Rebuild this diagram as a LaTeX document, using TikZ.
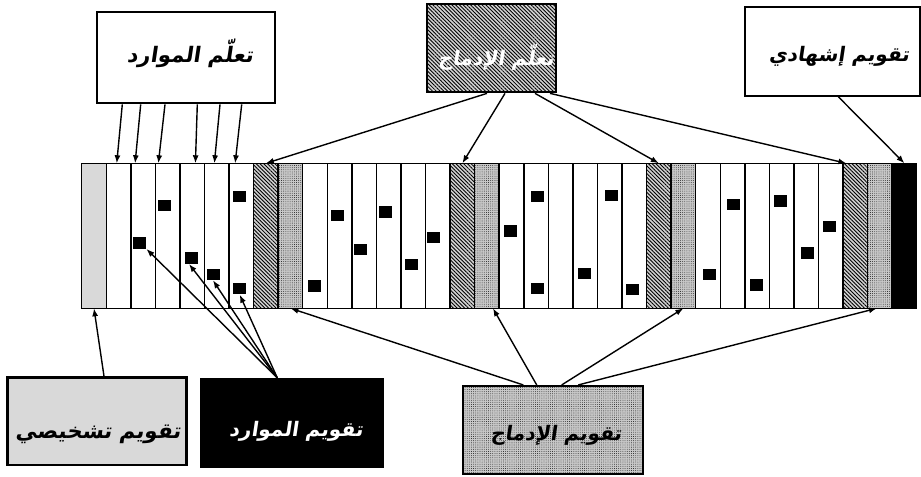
\documentclass[tikz,border=0pt]{standalone}
\usepackage{fontspec}
\usetikzlibrary{calc,arrows.meta,patterns.meta}
\TeXXeTstate=1
\newfontfamily\arabicfont[Script=Arabic,FakeSlant=0.15]{DejaVu Sans Bold}
\newcommand\artext[1]{{\arabicfont\beginR #1\endR}}

\definecolor{lightfill}{HTML}{D9D9D9}
\definecolor{hatchbg}{HTML}{D2D2D2}
\definecolor{dotbg}{HTML}{C8C8C8}

\tikzset{
  colbase/.style={draw=black, line width=1.1pt, inner sep=0pt, outer sep=0pt,
                  minimum width=18.42pt, minimum height=108.75pt},
  plaincol/.style={fill=white},
  diagcol/.style={fill=lightfill},
  hatchfill/.style={preaction={fill=hatchbg},
                    pattern={Lines[angle=-45,distance=2pt,line width=0.65pt]},
                    pattern color=black},
  dotfill/.style={preaction={fill=dotbg},
                  pattern={Dots[distance=1.6pt,radius=0.3pt]},
                  pattern color=black},
  hatchcol/.style={hatchfill},
  dotcol/.style={dotfill},
  finalcol/.style={fill=black},
  resource/.style={fill=black, inner sep=0pt, minimum width=9.75pt, minimum height=8.6pt},
  bigbox/.style={draw=black, line width=1.6pt, inner sep=0pt},
  lbl/.style={inner sep=0pt, font=\fontsize{15}{18}\selectfont},
  biglbl/.style={inner sep=0pt, font=\fontsize{16}{19}\selectfont},
  arr/.style={-{Latex[length=6pt,width=4.5pt]}, line width=1.05pt},
}

\begin{document}
\begin{tikzpicture}[x=0.75pt,y=-0.75pt]
\useasboundingbox (0,0) rectangle (921,477);

% the strip of learning and assessment slots
\foreach \k [count=\i from 0] in {diagcol,plaincol,plaincol,plaincol,plaincol,plaincol,plaincol,hatchcol,dotcol,
  plaincol,plaincol,plaincol,plaincol,plaincol,plaincol,hatchcol,dotcol,
  plaincol,plaincol,plaincol,plaincol,plaincol,plaincol,hatchcol,dotcol,
  plaincol,plaincol,plaincol,plaincol,plaincol,plaincol,hatchcol,dotcol,finalcol}
  \node[colbase,\k] (c\i) at ({81.7+(\i+0.5)*24.56},235.8) {};

% resource assessment marks
\foreach \x/\y [count=\n] in {139.7/243,164.3/205.7,191/258,213/274.3,239.7/196.7,239.7/288.7,
  314.3/286,337.7/215.7,360.3/249.3,385.3/212,411.7/264.3,433.7/237.3,
  510.7/231,537.3/196.7,537.3/288.7,584.3/273.3,611/195.7,632.3/289.7,
  709.7/274.3,733/204.3,756/285,780.7/201,807.3/253,829/226.3}
  \node[resource] (q\n) at (\x,\y) {};

% top boxes
\node[bigbox, fill=white, minimum width=133.3pt, minimum height=68.25pt] (lr) at (186.2,57.8) {};
\node[biglbl] (lrt) at (190,53) {\artext{تعلّم الموارد}};

\node[bigbox, hatchfill, minimum width=96.5pt, minimum height=66pt] (li) at (491.7,48.3) {};
\node[lbl, text=white] (lit) at (496,57) {\artext{تعلّم الإدماج}};

\node[bigbox, fill=white, minimum width=131.25pt, minimum height=66.3pt] (ce) at (832.5,51.5) {};
\node[lbl] (cet) at (839,56) {\artext{تقويم إشهادي}};

% bottom boxes
\node[bigbox, line width=2.2pt, fill=lightfill, minimum width=134.5pt, minimum height=65.5pt] (cd) at (97,421.3) {};
\node[biglbl] (cdt) at (98,434) {\artext{تقويم تشخيصي}};

\node[bigbox, fill=black, minimum width=136.5pt, minimum height=65.8pt] (cr) at (291.7,422.8) {};
\node[lbl, text=white] (crt) at (296,431) {\artext{تقويم الموارد}};

\node[bigbox, dotfill, minimum width=135pt, minimum height=66pt] (ci) at (552.7,430) {};
\node[lbl] (cit) at (556,435) {\artext{تقويم الإدماج}};

% learning of resources
\draw[arr] ($(lr.south)+(-63.9,0)$) -- ($(c1.north)+(-1.8,0)$);
\draw[arr] ($(lr.south)+(-45.5,0)$) -- ($(c2.north)+(-8,0)$);
\draw[arr] ($(lr.south)+(-21.2,0)$) -- ($(c3.north)+(-9.3,0)$);
\draw[arr] ($(lr.south)+(11.1,0)$) -- ($(c4.north)+(3.2,0)$);
\draw[arr] ($(lr.south)+(33.8,0)$) -- ($(c5.north)+(-2.4,0)$);
\draw[arr] ($(lr.south)+(55.5,0)$) -- ($(c6.north)+(-6.2,0)$);

% learning of integration
\draw[arr] ($(li.south)+(-4.7,0)$) -- (c7.north);
\draw[arr] ($(li.south)+(13.3,0)$) -- (c15.north);
\draw[arr] ($(li.south)+(43.3,0)$) -- (c23.north);
\draw[arr] ($(li.south)+(58.3,0)$) -- ($(c31.north)+(-9,0)$);

% certification
\draw[arr] ($(ce.south)+(5.8,0)$) -- (c33.north);

% diagnostic assessment
\draw[arr] ($(cd.north)+(7,0)$) -- (c0.south);

% resource assessment
\draw[arr] ($(cr.north)+(-14.4,0)$) -- (q1.south east);
\draw[arr] ($(cr.north)+(-14.4,0)$) -- ($(q3.south)+(-2,0)$);
\draw[arr] ($(cr.north)+(-14.4,0)$) -- (q4.south);
\draw[arr] ($(cr.north)+(-14.4,0)$) -- (q6.south);

% integration assessment
\draw[arr] ($(ci.north)+(-29.4,0)$) -- (c8.south);
\draw[arr] ($(ci.north)+(-16,0)$) -- ($(c16.south)+(6,0)$);
\draw[arr] ($(ci.north)+(9,0)$) -- (c24.south);
\draw[arr] ($(ci.north)+(25.6,0)$) -- ($(c32.south)+(-3,0)$);
\end{tikzpicture}
\end{document}
